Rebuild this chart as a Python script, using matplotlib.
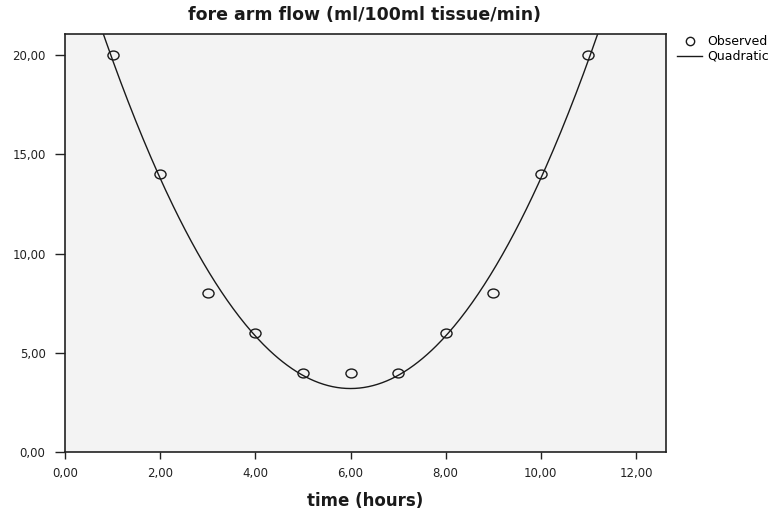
import numpy as np
import matplotlib
matplotlib.use("Agg")
import matplotlib.pyplot as plt
from matplotlib.path import Path
from matplotlib.lines import Line2D
from matplotlib.ticker import FuncFormatter

# observed data
hours = [1, 2, 3, 4, 5, 6, 7, 8, 9, 10, 11]
flow = [20, 14, 8, 6, 4, 4, 4, 6, 8, 14, 20]
x_ticks = [0, 2, 4, 6, 8, 10, 12]
y_ticks = [0, 5, 10, 15, 20]

plt.rcParams['font.family'] = ['DejaVu Sans']

# quadratic least squares fit of the observed points
coef = np.polyfit(hours, flow, 2)
xs = np.linspace(0, 12.6, 400)
ys = np.polyval(coef, xs)

# slightly wide open circle, like the SPSS marker
circ = Path.unit_circle()
oval = Path(circ.vertices * [1.25, 1.0], circ.codes)

fig = plt.figure(figsize=(7.79, 5.16), dpi=100)
ax = fig.add_axes([65/779, 1 - 452/516, (666-65)/779, (452-34)/516])
ax.set_facecolor('#f3f3f3')

ax.plot(xs, ys, color='#1a1a1a', linewidth=1.0)
ax.plot(hours, flow, linestyle='none', marker=oval, markersize=8,
        markerfacecolor='none', markeredgecolor='#1a1a1a', markeredgewidth=1.0)

ax.set_xlim(0, 12.63)
ax.set_ylim(0, 21.06)
ax.set_xticks(x_ticks)
ax.set_yticks(y_ticks)
fmt = FuncFormatter(lambda v, p: ('%.2f' % v).replace('.', ','))
ax.xaxis.set_major_formatter(fmt)
ax.yaxis.set_major_formatter(fmt)
ax.tick_params(direction='out', length=7, width=1.0, color='#222222',
               labelsize=8.5, labelcolor='#222222', pad=7)
ax.tick_params(axis='x', length=5, pad=6)
for s in ax.spines.values():
    s.set_linewidth(1.2)
    s.set_color('#222222')

fig.text(365/779, 1 - 15/516, 'fore arm flow (ml/100ml tissue/min)',
         ha='center', va='center', fontsize=12.5, fontweight='bold', color='#1a1a1a')
fig.text(365/779, 1 - 501/516, 'time (hours)',
         ha='center', va='center', fontsize=12, fontweight='bold', color='#1a1a1a')

handles = [Line2D([], [], linestyle='none', marker='o', markersize=6,
                  markerfacecolor='none', markeredgecolor='#1a1a1a', markeredgewidth=1.0),
           Line2D([], [], color='#1a1a1a', linewidth=1.0)]
fig.legend(handles, ['Observed', 'Quadratic'], loc='upper left',
           bbox_to_anchor=(677/779, 1 - 35/516),
           frameon=False, fontsize=9.0, handlelength=2.0, handletextpad=0.4,
           labelspacing=0.15, borderaxespad=0, borderpad=0)

fig.savefig('out.png', dpi=100)
